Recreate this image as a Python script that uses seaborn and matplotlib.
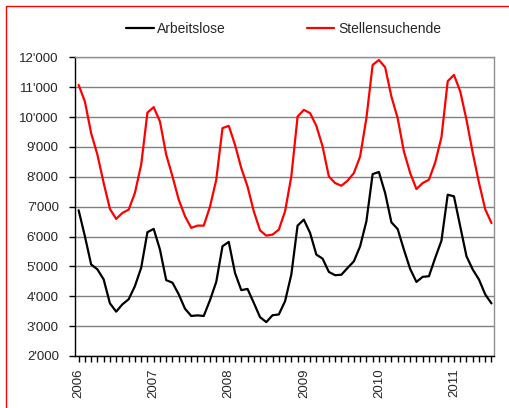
import matplotlib
matplotlib.use("Agg")
import matplotlib.pyplot as plt
import matplotlib.ticker as mticker
from matplotlib.patches import Rectangle
import seaborn as sns
import pandas as pd
import numpy as np

# ---- data (monthly, Jan 2006 - Jul 2011) ----
year_labels = ["2006", "2007", "2008", "2009", "2010", "2011"]
series_names = ["Arbeitslose", "Stellensuchende"]
arbeitslose = [6880, 6010, 5065, 4900, 4565, 3765, 3485, 3730, 3900, 4340, 4955, 6145,
               6255, 5565, 4540, 4455, 4065, 3585, 3340, 3360, 3340, 3870, 4480, 5675,
               5820, 4780, 4205, 4245, 3780, 3300, 3135, 3365, 3390, 3835, 4725, 6365,
               6565, 6120, 5395, 5260, 4815, 4705, 4720, 4950, 5170, 5675, 6510, 8090,
               8160, 7455, 6475, 6250, 5560, 4915, 4480, 4650, 4670, 5285, 5860, 7400,
               7345, 6340, 5340, 4895, 4560, 4060, 3760]
stellensuchende = [11075, 10520, 9460, 8740, 7795, 6925, 6590, 6790, 6900, 7460, 8405, 10150,
                   10330, 9850, 8740, 8015, 7235, 6680, 6290, 6365, 6365, 7000, 7900, 9630,
                   9705, 9070, 8290, 7675, 6845, 6205, 6030, 6065, 6230, 6845, 8010, 10015,
                   10240, 10130, 9705, 9015, 8010, 7790, 7700, 7870, 8125, 8680, 9960, 11745,
                   11910, 11665, 10685, 9960, 8845, 8125, 7590, 7790, 7900, 8480, 9325, 11200,
                   11410, 10860, 9910, 8800, 7800, 6910, 6450]

month_idx = list(range(len(arbeitslose)))
df = pd.DataFrame({
    "Monat": month_idx * 2,
    "Wert": arbeitslose + stellensuchende,
    "Serie": [series_names[0]] * len(arbeitslose) + [series_names[1]] * len(stellensuchende),
})

sns.set_style("white")
plt.rcParams["font.family"] = ["Liberation Sans", "DejaVu Sans"]

W, H = 510, 408
fig = plt.figure(figsize=(W / 100, H / 100), dpi=100)
ax = fig.add_axes([75.5 / W, 1 - 356 / H, (494 - 75.5) / W, (356 - 57.3) / H])

sns.lineplot(data=df, x="Monat", y="Wert", hue="Serie",
             palette={"Arbeitslose": "black", "Stellensuchende": "#ff0000"},
             linewidth=1.6, ax=ax, legend=True)

ax.set_xlim(-0.5, 66.4)
ax.set_ylim(2000, 12000)
ax.set_xlabel("")
ax.set_ylabel("")

ax.yaxis.set_major_locator(mticker.MultipleLocator(1000))
ax.yaxis.set_major_formatter(mticker.FuncFormatter(lambda v, p: f"{int(v):,}".replace(",", "'")))
ax.set_xticks([12 * k for k in range(len(year_labels))])
ax.set_xticklabels(year_labels, rotation=90)
ax.xaxis.set_minor_locator(mticker.MultipleLocator(1))

ax.grid(axis="y", color="#808080", linewidth=1.0)
ax.set_axisbelow(True)
for s in ["top", "right"]:
    ax.spines[s].set_color("#909090")
    ax.spines[s].set_linewidth(1.0)
for s in ["left", "bottom"]:
    ax.spines[s].set_color("black")
    ax.spines[s].set_linewidth(1.0)

ax.tick_params(axis="y", which="major", direction="out", length=4, width=1, color="black",
               labelsize=9.5, pad=8, left=True)
ax.tick_params(axis="x", which="both", direction="out", length=4, width=1, color="black",
               labelsize=9.5, pad=5, bottom=True)
ax.tick_params(axis="x", which="minor", length=4)

leg = ax.legend(loc="center", bbox_to_anchor=(0.497, 1.095), ncol=2, frameon=False,
                fontsize=10, handlelength=2.0, handletextpad=0.25, columnspacing=5.8,
                borderaxespad=0)
for line in leg.get_lines():
    line.set_linewidth(1.6)

# red outer frame
fig.patches.append(Rectangle((6 / W, -0.1), 1.2, 1 - 6 / H + 0.1, transform=fig.transFigure,
                             fill=False, edgecolor="#ff0000", linewidth=1.0))

fig.savefig("out.png", dpi=100)
